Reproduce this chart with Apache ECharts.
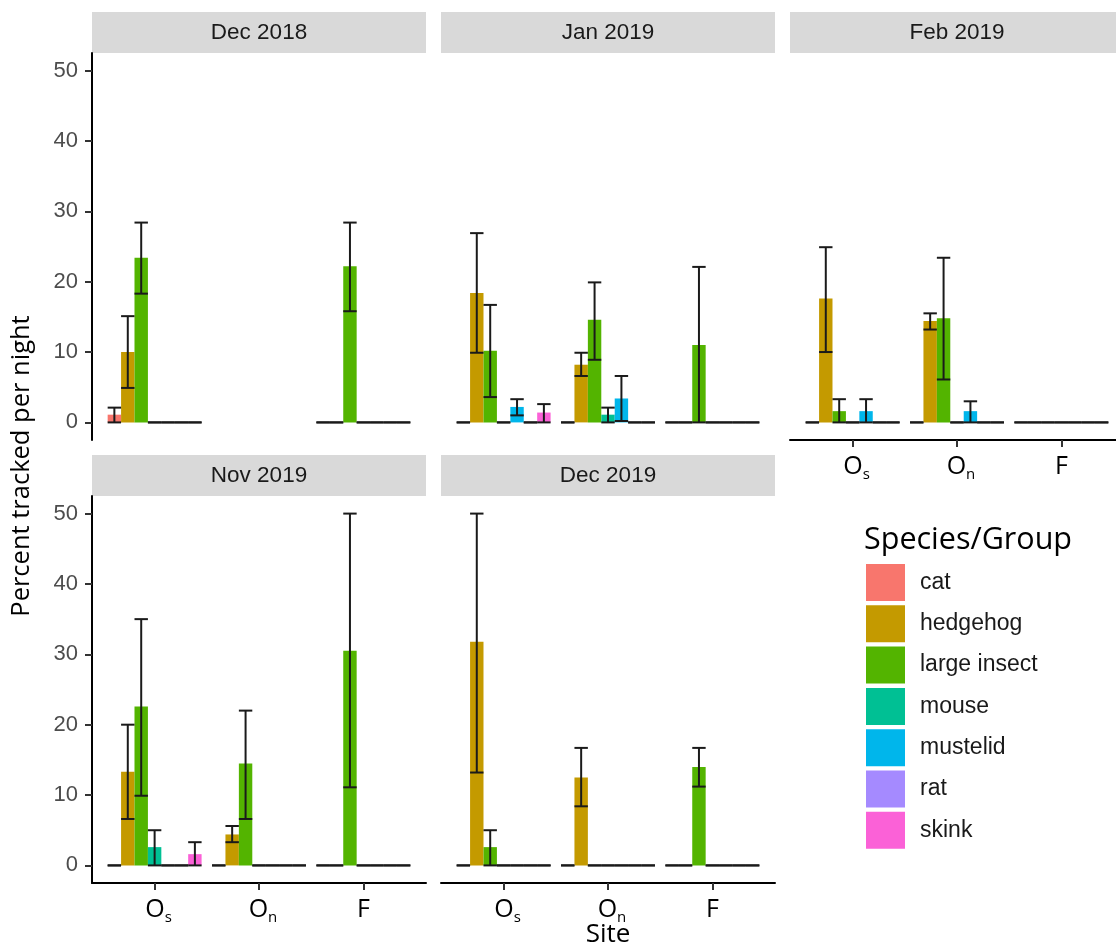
<!DOCTYPE html>
<html>
<head>
<meta charset="utf-8">
<title>Percent tracked per night</title>
<script src="https://cdn.jsdelivr.net/npm/echarts@6/dist/echarts.min.js"></script>
<style>
  html, body { margin: 0; padding: 0; background: #ffffff; }
  #chart { width: 1116px; height: 947px; }
</style>
</head>
<body>
<div id="chart"></div>
<script>
// ---- data ----------------------------------------------------------------
const SPECIES = ['cat', 'hedgehog', 'large insect', 'mouse', 'mustelid', 'rat', 'skink'];
const PANEL_TITLES = ['Dec 2018', 'Jan 2019', 'Feb 2019', 'Nov 2019', 'Dec 2019'];
const SITE_LABELS = [['O', 's'], ['O', 'n'], ['F', '']];
const Y_TICKS = [0, 10, 20, 30, 40, 50];

// rows = sites (Os, On, F), columns = species; null = site not surveyed
const dec2018Mean = [[1.1, 10.0, 23.4, 0, 0, 0, 0], null, [0, 0, 22.2, 0, 0, 0, 0]];
const dec2018Low  = [[0, 4.9, 18.3, 0, 0, 0, 0], null, [0, 0, 15.8, 0, 0, 0, 0]];
const dec2018High = [[2.1, 15.1, 28.4, 0, 0, 0, 0], null, [0, 0, 28.4, 0, 0, 0, 0]];

const jan2019Mean = [[0, 18.4, 10.2, 0, 2.2, 0, 1.4], [0, 8.2, 14.6, 1.1, 3.4, 0, 0], [0, 0, 11.0, 0, 0, 0, 0]];
const jan2019Low  = [[0, 9.9, 3.6, 0, 1.0, 0, 0], [0, 6.6, 8.9, 0, 0.2, 0, 0], [0, 0, 0, 0, 0, 0, 0]];
const jan2019High = [[0, 26.9, 16.7, 0, 3.3, 0, 2.6], [0, 9.9, 19.9, 2.1, 6.6, 0, 0], [0, 0, 22.1, 0, 0, 0, 0]];

const feb2019Mean = [[0, 17.6, 1.6, 0, 1.6, 0, 0], [0, 14.4, 14.8, 0, 1.6, 0, 0], [0, 0, 0, 0, 0, 0, 0]];
const feb2019Low  = [[0, 10.0, 0, 0, 0, 0, 0], [0, 13.2, 6.1, 0, 0, 0, 0], [0, 0, 0, 0, 0, 0, 0]];
const feb2019High = [[0, 24.9, 3.3, 0, 3.3, 0, 0], [0, 15.5, 23.4, 0, 3.0, 0, 0], [0, 0, 0, 0, 0, 0, 0]];

const nov2019Mean = [[0, 13.3, 22.6, 2.6, 0, 0, 1.6], [0, 4.4, 14.5, 0, 0, 0, 0], [0, 0, 30.5, 0, 0, 0, 0]];
const nov2019Low  = [[0, 6.6, 9.9, 0, 0, 0, 0], [0, 3.3, 6.6, 0, 0, 0, 0], [0, 0, 11.1, 0, 0, 0, 0]];
const nov2019High = [[0, 20.0, 35.0, 5.0, 0, 0, 3.3], [0, 5.6, 22.0, 0, 0, 0, 0], [0, 0, 50.0, 0, 0, 0, 0]];

const dec2019Mean = [[0, 31.8, 2.6, 0, 0, 0, 0], [0, 12.5, 0, 0, 0, 0, 0], [0, 0, 14.0, 0, 0, 0, 0]];
const dec2019Low  = [[0, 13.2, 0, 0, 0, 0, 0], [0, 8.4, 0, 0, 0, 0, 0], [0, 0, 11.2, 0, 0, 0, 0]];
const dec2019High = [[0, 50.0, 5.0, 0, 0, 0, 0], [0, 16.7, 0, 0, 0, 0, 0], [0, 0, 16.7, 0, 0, 0, 0]];

// ---- styling / layout ------------------------------------------------------
const SPECIES_COLORS = ['#F8766D', '#C49A00', '#53B400', '#00C094', '#00B6EB', '#A58AFF', '#FB61D7'];
const COL_LEFT = [92, 441, 790];
const ROW_TOP = [53, 496];
const PANEL_W = 334;
const PANEL_H = 387;
const STRIP_H = 41;
const DODGE = 0.9;                         // total dodge width per site
const SLOT = DODGE / SPECIES.length;       // width of one bar
const HALF = SLOT / 2;
const ARIAL = 'Liberation Sans, Arial, sans-serif';
const TITLE_FONT = 'Open Sans, sans-serif';

const panels = [
  { mean: dec2018Mean, low: dec2018Low, high: dec2018High, col: 0, row: 0, yAxis: true,  xAxis: false },
  { mean: jan2019Mean, low: jan2019Low, high: jan2019High, col: 1, row: 0, yAxis: false, xAxis: false },
  { mean: feb2019Mean, low: feb2019Low, high: feb2019High, col: 2, row: 0, yAxis: false, xAxis: true },
  { mean: nov2019Mean, low: nov2019Low, high: nov2019High, col: 0, row: 1, yAxis: true,  xAxis: true },
  { mean: dec2019Mean, low: dec2019Low, high: dec2019High, col: 1, row: 1, yAxis: false, xAxis: true }
];

function slotX(site, k) {
  return site + 1 + (k - (SPECIES.length - 1) / 2) * SLOT;
}

function renderBar(params, api) {
  const x = api.value(0), v = api.value(1);
  if (!(v > 0)) return null;
  const p0 = api.coord([x - HALF, 0]);
  const p1 = api.coord([x + HALF, v]);
  return {
    type: 'rect',
    shape: { x: p0[0], y: p1[1], width: p1[0] - p0[0], height: p0[1] - p1[1] },
    style: { fill: api.visual('color') }
  };
}

function renderErrorBar(params, api) {
  const x = api.value(0), lo = api.value(1), hi = api.value(2);
  const l0 = api.coord([x - HALF, lo]), r0 = api.coord([x + HALF, lo]);
  const l1 = api.coord([x - HALF, hi]), r1 = api.coord([x + HALF, hi]);
  const m0 = api.coord([x, lo]), m1 = api.coord([x, hi]);
  const st = { stroke: '#1a1a1a', lineWidth: 2 };
  const children = [
    { type: 'line', shape: { x1: l0[0], y1: l0[1], x2: r0[0], y2: r0[1] }, style: st },
    { type: 'line', shape: { x1: l1[0], y1: l1[1], x2: r1[0], y2: r1[1] }, style: st }
  ];
  if (hi > lo) {
    children.push({ type: 'line', shape: { x1: m0[0], y1: m0[1], x2: m1[0], y2: m1[1] }, style: st });
  }
  return { type: 'group', children };
}

const grids = [], xAxes = [], yAxes = [], series = [], graphics = [];

panels.forEach((p, i) => {
  const left = COL_LEFT[p.col], top = ROW_TOP[p.row];
  grids.push({ left, top, width: PANEL_W, height: PANEL_H, containLabel: false, outerBoundsMode: 'none' });

  xAxes.push({
    type: 'value', gridIndex: i, min: 0.4, max: 3.6, show: p.xAxis,
    splitLine: { show: false },
    axisLine: { show: true, onZero: false, lineStyle: { color: '#000', width: 2 } },
    axisTick: { show: true, length: 7, customValues: [1, 2, 3], lineStyle: { color: '#333', width: 2 } },
    axisLabel: {
      show: true, margin: 12, customValues: [1, 2, 3],
      formatter: (v) => {
        const lab = SITE_LABELS[Math.round(v) - 1];
        if (!lab) return '';
        return lab[1] ? '{o|' + lab[0] + '}{' + (lab[1] === 's' ? 'ss' : 'sn') + '|' + lab[1] + '}' : '{f|' + lab[0] + '}';
      },
      rich: {
        o:  { fontFamily: TITLE_FONT, fontSize: 25, color: '#000', lineHeight: 30, padding: [0, 0, 0, 8] },
        f:  { fontFamily: TITLE_FONT, fontSize: 25, color: '#000', lineHeight: 30 },
        ss: { fontFamily: TITLE_FONT, fontSize: 15, color: '#000', lineHeight: 10, verticalAlign: 'bottom' },
        sn: { fontFamily: TITLE_FONT, fontSize: 15, color: '#000', lineHeight: 10, verticalAlign: 'bottom' }
      }
    }
  });

  yAxes.push({
    type: 'value', gridIndex: i, min: -2.5, max: 52.5, show: p.yAxis,
    splitLine: { show: false },
    axisLine: { show: true, onZero: false, lineStyle: { color: '#000', width: 2 } },
    axisTick: { show: true, length: 7, customValues: Y_TICKS, lineStyle: { color: '#333', width: 2 } },
    axisLabel: {
      show: true, margin: 14, customValues: Y_TICKS,
      fontFamily: ARIAL, fontSize: 22, color: '#4D4D4D'
    }
  });

  // facet strip
  graphics.push({
    type: 'rect', silent: true,
    shape: { x: left, y: top - STRIP_H, width: PANEL_W, height: STRIP_H },
    style: { fill: '#D9D9D9' }
  });
  graphics.push({
    type: 'text', silent: true,
    x: left + PANEL_W / 2, y: top - STRIP_H / 2,
    style: {
      text: PANEL_TITLES[i], fontFamily: ARIAL, fontSize: 22.5, fill: '#1A1A1A',
      align: 'center', verticalAlign: 'middle'
    }
  });

  SPECIES.forEach((name, k) => {
    const data = [];
    p.mean.forEach((row, s) => { if (row) data.push([slotX(s, k), row[k]]); });
    series.push({
      type: 'custom', name, xAxisIndex: i, yAxisIndex: i, z: 2,
      itemStyle: { color: SPECIES_COLORS[k] },
      encode: { x: 0, y: 1 },
      renderItem: renderBar, data, silent: true
    });
  });

  const errData = [];
  p.mean.forEach((row, s) => {
    if (!row) return;
    SPECIES.forEach((_, k) => errData.push([slotX(s, k), p.low[s][k], p.high[s][k]]));
  });
  series.push({
    type: 'custom', xAxisIndex: i, yAxisIndex: i, z: 3,
    encode: { x: 0, y: [1, 2] },
    renderItem: renderErrorBar, data: errData, silent: true
  });
});

// axis titles and legend title
graphics.push({
  type: 'text', silent: true, x: 22, y: 466, rotation: Math.PI / 2,
  style: { text: 'Percent tracked per night', fontFamily: TITLE_FONT, fontSize: 25.5, fill: '#000',
           align: 'center', verticalAlign: 'middle' }
});
graphics.push({
  type: 'text', silent: true, x: 608, y: 935,
  style: { text: 'Site', fontFamily: TITLE_FONT, fontSize: 26, fill: '#000',
           align: 'center', verticalAlign: 'middle' }
});
graphics.push({
  type: 'text', silent: true, x: 864, y: 540,
  style: { text: 'Species/Group', fontFamily: TITLE_FONT, fontSize: 30.5, fill: '#000',
           align: 'left', verticalAlign: 'middle' }
});

const chart = echarts.init(document.getElementById('chart'), null, { renderer: 'canvas' });
chart.setOption({
  animation: false,
  backgroundColor: '#ffffff',
  grid: grids,
  xAxis: xAxes,
  yAxis: yAxes,
  legend: {
    data: SPECIES, orient: 'vertical', left: 866, top: 564, padding: 0,
    icon: 'rect', itemWidth: 39, itemHeight: 37, itemGap: 4.3, selectedMode: false,
    textStyle: { fontFamily: ARIAL, fontSize: 23, color: '#1A1A1A', padding: [0, 0, 0, 10] }
  },
  graphic: graphics,
  series
});
</script>
</body>
</html>
